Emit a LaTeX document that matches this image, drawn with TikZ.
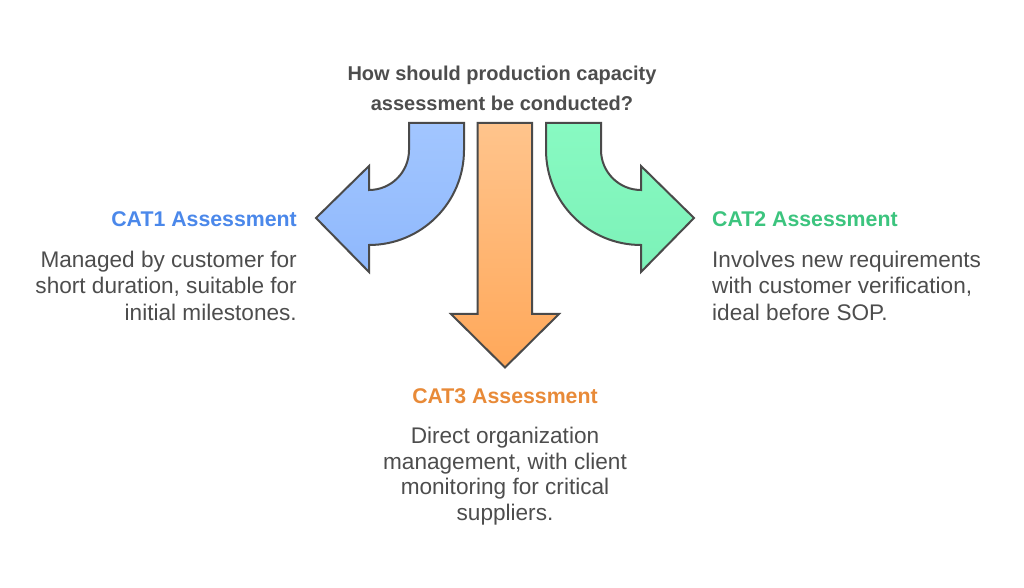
\documentclass[tikz,border=0pt]{standalone}
\usepackage{fontspec}
\setmainfont{Liberation Sans}
\definecolor{edge}{HTML}{4A4A4A}
\definecolor{txt}{HTML}{4D4D4D}
\definecolor{blueT}{HTML}{4B88EA}
\definecolor{greenT}{HTML}{3CC47E}
\definecolor{orangeT}{HTML}{E88A38}
\definecolor{blueA}{HTML}{A2C6FF}
\definecolor{blueB}{HTML}{8FB8FC}
\definecolor{greenA}{HTML}{88FAC2}
\definecolor{greenB}{HTML}{7CF1B8}
\definecolor{orangeA}{HTML}{FFC48C}
\definecolor{orangeB}{HTML}{FFA85A}
\tikzset{
  arrowshape/.style={draw=edge, line width=2pt, line join=miter},
  title/.style={font=\bfseries\fontsize{21.3}{26}\selectfont, inner sep=0pt},
  body/.style={font=\fontsize{22.6}{26.5}\selectfont, text=txt, inner sep=0pt},
  question/.style={font=\bfseries\fontsize{20}{30}\selectfont, text=txt, inner sep=0pt, align=center}
}
\begin{document}
\begin{tikzpicture}[x=1pt,y=1pt]
\useasboundingbox (0,0) rectangle (1024,588);
% blue arrow (left)
\shade[arrowshape, top color=blueA, bottom color=blueB]
  (409,465) -- (464,465) -- (464,438) arc[start angle=0, end angle=-90, radius=95]
  -- (369,316) -- (316,370) -- (369,422) -- (369,398)
  arc[start angle=-90, end angle=0, radius=40] -- cycle;
% green arrow (right)
\shade[arrowshape, top color=greenA, bottom color=greenB]
  (601,465) -- (546,465) -- (546,438) arc[start angle=180, end angle=270, radius=95]
  -- (641,316) -- (694,370) -- (641,422) -- (641,398)
  arc[start angle=270, end angle=180, radius=40] -- cycle;
% orange arrow (down)
\shade[arrowshape, top color=orangeA, bottom color=orangeB]
  (477.5,465) -- (532,465) -- (532,274) -- (559,274) -- (505,220.5)
  -- (451,274) -- (477.5,274) -- cycle;
% texts
\node[question, anchor=base] (q1) at (502,507) {How should production capacity};
\node[question, anchor=base] (q2) at (502,477) {assessment be conducted?};
\node[title, text=blueT, anchor=base east] (t1) at (297,361) {CAT1 Assessment};
\node[body, anchor=base east] (b1) at (297,320.5) {Managed by customer for};
\node[body, anchor=base east] (b1b) at (297,294) {short duration, suitable for};
\node[body, anchor=base east] (b1c) at (297,267.5) {initial milestones.};
\node[title, text=greenT, anchor=base west] (t2) at (712,361) {CAT2 Assessment};
\node[body, anchor=base west] (b2) at (712,320.5) {Involves new requirements};
\node[body, anchor=base west] (b2b) at (712,294) {with customer verification,};
\node[body, anchor=base west] (b2c) at (712,267.5) {ideal before SOP.};
\node[title, text=orangeT, anchor=base] (t3) at (505,184.5) {CAT3 Assessment};
\node[body, anchor=base] (b3) at (505,144.5) {Direct organization};
\node[body, anchor=base] (b3b) at (505,118.5) {management, with client};
\node[body, anchor=base] (b3c) at (505,93) {monitoring for critical};
\node[body, anchor=base] (b3d) at (505,67.5) {suppliers.};
\end{tikzpicture}
\end{document}
